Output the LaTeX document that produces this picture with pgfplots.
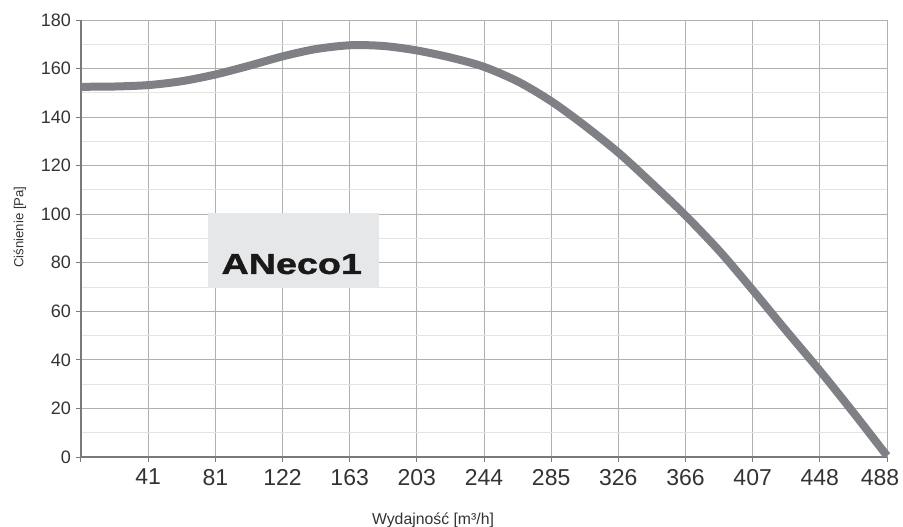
\documentclass[border=0pt]{standalone}
\usepackage{fontspec}
\setmainfont{Liberation Sans}
\newfontfamily\anecofont[FakeStretch=1.3,FakeBold=1.5]{Liberation Sans Bold}
\usepackage{pgfplots}
\pgfplotsset{compat=1.18}
\definecolor{curve}{HTML}{7F8085}
\definecolor{majgrid}{HTML}{B0B0B0}
\definecolor{mingrid}{HTML}{E4E4E4}
\definecolor{axline}{HTML}{7A7A7A}
\definecolor{boxfill}{HTML}{E6E7E8}
\definecolor{txt}{HTML}{333333}
\begin{document}
\begin{tikzpicture}
\useasboundingbox (-40.5pt,-34.5pt) rectangle (411pt,228.5pt);
\begin{axis}[
  scale only axis,
  width=403pt, height=218.5pt,
  xmin=0, xmax=488, ymin=0, ymax=180,
  axis lines=left,
  axis line style={-, draw=axline, line width=0.6pt},
  xtick={0,40.667,81.333,122,162.667,203.333,244,284.667,325.333,366,406.667,447.333},
  xticklabels={,41,81,122,163,203,244,285,326,366,407,448},
  extra x ticks={488},
  extra x tick labels={488},
  extra x tick style={grid=major, xticklabel style={xshift=-3.5pt}},
  ytick={0,20,...,180},
  minor x tick num=1, minor y tick num=1,
  grid=both,
  major grid style={draw=majgrid, line width=0.5pt},
  minor grid style={draw=mingrid, line width=0.5pt},
  tick align=outside,
  major tick length=2.5pt, minor tick length=0pt,
  tick style={draw=axline, line width=0.5pt},
  /pgf/number format/assume math mode=true,
  xticklabel style={font=\fontsize{11.5}{13}\selectfont, text=txt},
  yticklabel style={font=\fontsize{9}{11}\selectfont, text=txt, xshift=1pt},
  xlabel={Wydajność [m³/h]},
  ylabel={Ciśnienie [Pa]},
  xlabel style={font=\fontsize{7.9}{9}\selectfont, text=txt, at={(axis description cs:0.4367,-0.1442)}, anchor=center},
  ylabel style={font=\fontsize{6.6}{8}\selectfont, text=txt, at={(axis description cs:-0.0757,0.526)}, anchor=center},
  clip=false,
]
\fill[boxfill] (axis cs:76.8,69.6) rectangle (axis cs:180.2,100.5);
\node[anchor=base, font=\fontsize{14.5}{16}\anecofont, text=black!90] at (axis cs:127.6,75.4) {ANeco1};
\addplot[curve, line width=4pt, smooth, tension=0.5] coordinates {
(0,152.5) (20,152.6) (41,153.2) (61,154.8) (81,157.5) (102,161.2) (122,165) (142,168) (163,169.6) (183,169.3) (203,167.5) (224,164.5) (244,160.7) (265,154.5) (285,146.4) (305,136.5) (326,125) (346,112.5) (366,99.5) (387,84.5) (407,68.5) (427,52) (448,35) (468,18) (488,0.5)
};
\end{axis}
\end{tikzpicture}
\end{document}
